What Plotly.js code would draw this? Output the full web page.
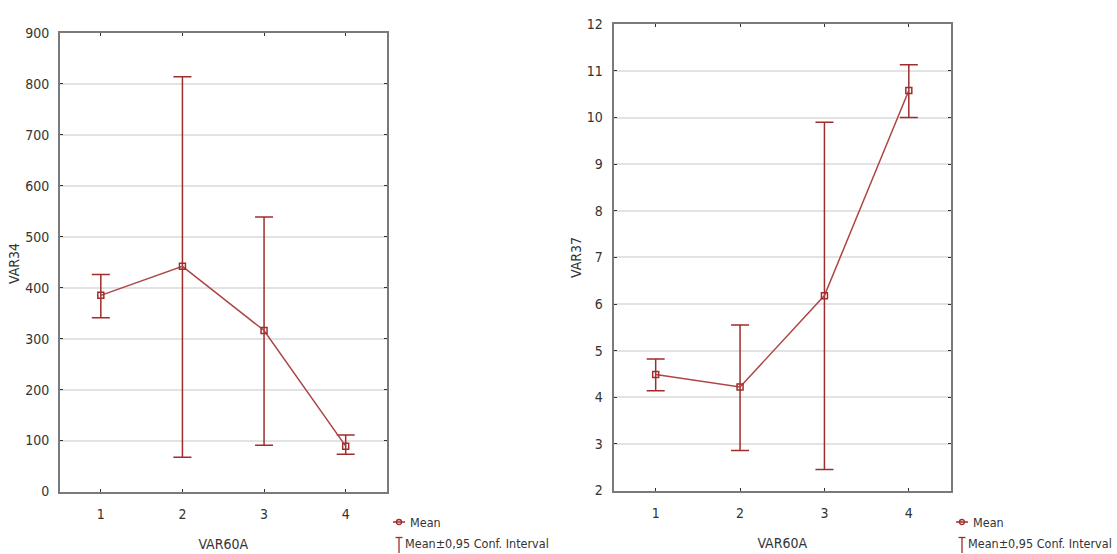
<!DOCTYPE html>
<html>
<head>
<meta charset="utf-8">
<script src="https://cdn.plot.ly/plotly-3.0.1.min.js"></script>
<style>html,body{margin:0;padding:0;background:#fff;}#chart{width:1117px;height:554px;}</style>
</head>
<body>
<div id="chart"></div>
<script>
// ---- data ----
const groups = [1, 2, 3, 4];
const tickLabels = ["1", "2", "3", "4"];
const var34Mean = [385, 442, 316, 89];
const var34Upper = [426, 814, 539, 111];
const var34Lower = [341, 67, 91, 73];
const var37Mean = [4.49, 4.22, 6.18, 10.58];
const var37Upper = [4.82, 5.55, 9.90, 11.13];
const var37Lower = [4.14, 2.86, 2.45, 10.00];
const legendLabels = ["Mean", "Mean±0,95 Conf. Interval"];
const xTitle = "VAR60A";
const yTitles = ["VAR34", "VAR37"];

// ---- styling ----
const W = 1117, H = 554;
const px = x => x / W;
const py = y => 1 - y / H;
const FONT = "DejaVu Sans Condensed, Liberation Sans Narrow, Arial Narrow, Arial, sans-serif";
const TXT = "#333";
const LINE = "#ad4545";
const ERR = "#a02c2c";

function trace(mean, up, lo, xa, ya) {
  return {
    x: groups, y: mean, xaxis: xa, yaxis: ya,
    mode: "lines+markers", type: "scatter", showlegend: false,
    line: {color: LINE, width: 1.5},
    marker: {symbol: "square-open", size: 6, color: ERR, line: {width: 1.5, color: ERR}},
    error_y: {type: "data", symmetric: false,
      array: up.map((v, i) => v - mean[i]),
      arrayminus: mean.map((v, i) => v - lo[i]),
      color: ERR, thickness: 1.5, width: 9},
    hoverinfo: "x+y"
  };
}

function xax(d0, d1, anchor) {
  return {
    domain: [d0, d1], anchor: anchor, range: [0.5, 4.5],
    tickvals: groups, ticktext: tickLabels,
    showgrid: false, zeroline: false,
    showline: true, linecolor: "#7a7a7a", linewidth: 2, mirror: "allticks",
    ticks: "inside", ticklen: 3, tickcolor: "#333", tickwidth: 1,
    ticklabelstandoff: 9,
    tickfont: {family: FONT, size: 14, color: TXT},
    title: {text: xTitle, font: {family: FONT, size: 14, color: TXT}, standoff: 18},
    fixedrange: true
  };
}
function yax(d0, d1, anchor, range, dtick) {
  return {
    domain: [d0, d1], anchor: anchor, range: range, dtick: dtick, tick0: 0,
    showgrid: true, gridcolor: "#e3e3e3", gridwidth: 2, zeroline: false,
    showline: true, linecolor: "#7a7a7a", linewidth: 2, mirror: "allticks",
    ticks: "inside", ticklen: 3, tickcolor: "#333", tickwidth: 1,
    ticklabelstandoff: 6,
    tickfont: {family: FONT, size: 14, color: TXT},
    fixedrange: true
  };
}

const data = [
  trace(var34Mean, var34Upper, var34Lower, "x", "y"),
  trace(var37Mean, var37Upper, var37Lower, "x2", "y2")
];

const shapes = [];
const annotations = [];

// y-axis titles (rotated)
annotations.push({xref: "paper", yref: "paper", x: px(14), y: py(264),
  xanchor: "center", yanchor: "middle", showarrow: false, textangle: -90,
  text: yTitles[0], font: {family: FONT, size: 14, color: TXT}});
annotations.push({xref: "paper", yref: "paper", x: px(576), y: py(258),
  xanchor: "center", yanchor: "middle", showarrow: false, textangle: -90,
  text: yTitles[1], font: {family: FONT, size: 14, color: TXT}});

// legend glyphs and texts (paper coordinates)
function legendAt(symX, textX) {
  shapes.push({type: "line", xref: "paper", yref: "paper",
    x0: px(symX - 6), x1: px(symX + 6), y0: py(522), y1: py(522),
    line: {color: ERR, width: 1.5}});
  shapes.push({type: "circle", xref: "paper", yref: "paper",
    x0: px(symX - 2.5), x1: px(symX + 2.5), y0: py(524.5), y1: py(519.5),
    line: {color: ERR, width: 1.3}, fillcolor: "rgba(0,0,0,0)"});
  shapes.push({type: "line", xref: "paper", yref: "paper",
    x0: px(symX - 3.5), x1: px(symX + 3.5), y0: py(537.5), y1: py(537.5),
    line: {color: ERR, width: 1.3}});
  shapes.push({type: "line", xref: "paper", yref: "paper",
    x0: px(symX), x1: px(symX), y0: py(537.5), y1: py(553),
    line: {color: ERR, width: 1.3}});
  annotations.push({xref: "paper", yref: "paper", x: px(textX), y: py(522),
    xanchor: "left", yanchor: "middle", showarrow: false, text: legendLabels[0],
    font: {family: FONT, size: 12.5, color: TXT}});
  annotations.push({xref: "paper", yref: "paper", x: px(textX - 5), y: py(543.5),
    xanchor: "left", yanchor: "middle", showarrow: false, text: legendLabels[1],
    font: {family: FONT, size: 12.5, color: TXT}});
}
legendAt(399, 408);
legendAt(962, 971);

const layout = {
  width: W, height: H,
  margin: {l: 0, r: 0, t: 0, b: 0},
  paper_bgcolor: "#fff", plot_bgcolor: "#fff",
  showlegend: false,
  xaxis: xax(px(60), px(386.5), "y"),
  yaxis: yax(py(491.5), py(33), "x", [0, 900], 100),
  xaxis2: xax(px(613.5), px(951), "y2"),
  yaxis2: yax(py(490.5), py(24.3), "x2", [2, 12], 1),
  shapes: shapes,
  annotations: annotations
};

Plotly.newPlot("chart", data, layout, {displayModeBar: false, staticPlot: true});
</script>
</body>
</html>
